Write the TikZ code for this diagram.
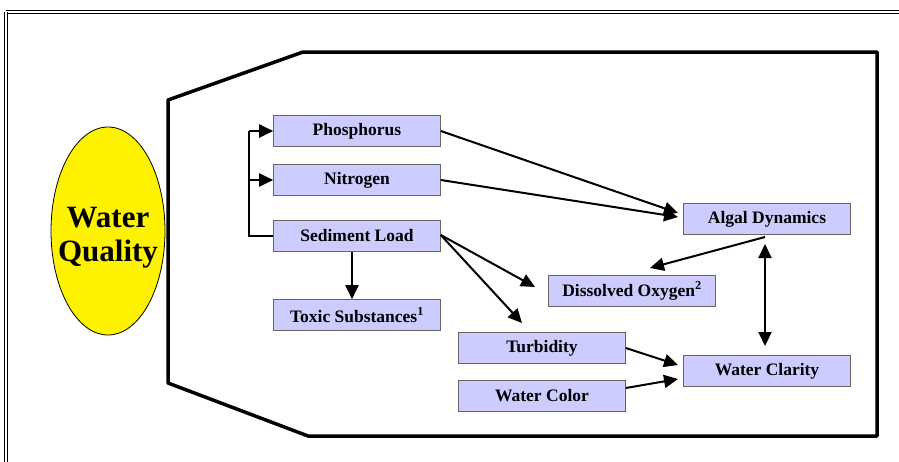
\documentclass[tikz,border=0pt]{standalone}
\usepackage{fontspec}
\setmainfont{Liberation Serif}
\usetikzlibrary{arrows.meta,shapes.geometric}
\tikzset{
  box/.style={draw=black!60, line width=0.6pt, fill={rgb,255:red,204;green,204;blue,255}, minimum width=167pt, minimum height=31pt, inner sep=0pt, font=\fontsize{17.5}{19}\selectfont\bfseries},
  arr/.style={line width=2pt, -{Triangle[length=14pt,width=13pt]}},
  darr/.style={line width=2pt, {Triangle[length=14pt,width=13pt]}-{Triangle[length=14pt,width=13pt]}},
  plain/.style={line width=2pt}
}
\begin{document}
\begin{tikzpicture}[x=1pt,y=-1pt]
\useasboundingbox (0,0) rectangle (899,461);
\fill[white] (0,0) rectangle (899,461);
\draw[line width=0.6pt, double, double distance=2pt] (6,12) -- (910,12);
\draw[line width=0.6pt, double, double distance=2pt] (6,12) -- (6,470);
\draw[line width=3.5pt, line join=round] (168,100) -- (303,52) -- (877,52) -- (877,436) -- (308,436) -- (168,383) -- cycle;
\node[ellipse, draw=black, line width=0.8pt, fill=yellow, minimum width=114pt, minimum height=208pt, inner sep=0pt] (wq) at (108,231) {};
\node[align=center, font=\fontsize{31}{34}\selectfont\bfseries, inner sep=0pt] (wqt) at ([yshift=-7pt]wq.center) {Water\\Quality};
\node[box] (p) at (357,131) {Phosphorus};
\node[box] (n) at (357,180) {Nitrogen};
\node[box] (s) at (357,236) {Sediment Load};
\node[box] (t) at (357,315) {Toxic Substances\textsuperscript{1}};
\node[box] (a) at (767,219) {Algal Dynamics};
\node[box] (d) at (632,291) {Dissolved Oxygen\textsuperscript{2}};
\node[box] (tu) at (542,348) {Turbidity};
\node[box] (wc) at (542,396) {Water Color};
\node[box] (cl) at (767,371) {Water Clarity};
\coordinate (br) at (249,236);
\draw[plain] (s.west) -- (br) -- (249,131);
\draw[arr] (249,131) -- (p.west);
\draw[arr] (249,180) -- (n.west);
\draw[arr] (s.south -| 352,0) -- (t.north -| 352,0);
\coordinate (pa) at (678,213);
\coordinate (na) at (678,217);
\draw[arr] (p.east) -- (pa);
\draw[arr] (n.east) -- (na);
\coordinate (sd) at (535,287);
\coordinate (st) at (522,323);
\draw[arr] ([yshift=1pt]s.east) -- (sd);
\draw[arr] ([yshift=1pt]s.east) -- (st);
\coordinate (ad) at (650,268);
\draw[arr] (765,237) -- (ad);
\draw[darr] (765,244) -- (765,346);
\coordinate (tc) at (678,365);
\coordinate (wcc) at (678,379);
\draw[arr] (tu.east) -- (tc);
\draw[arr] ([yshift=8pt]wc.east) -- (wcc);
\end{tikzpicture}
\end{document}
